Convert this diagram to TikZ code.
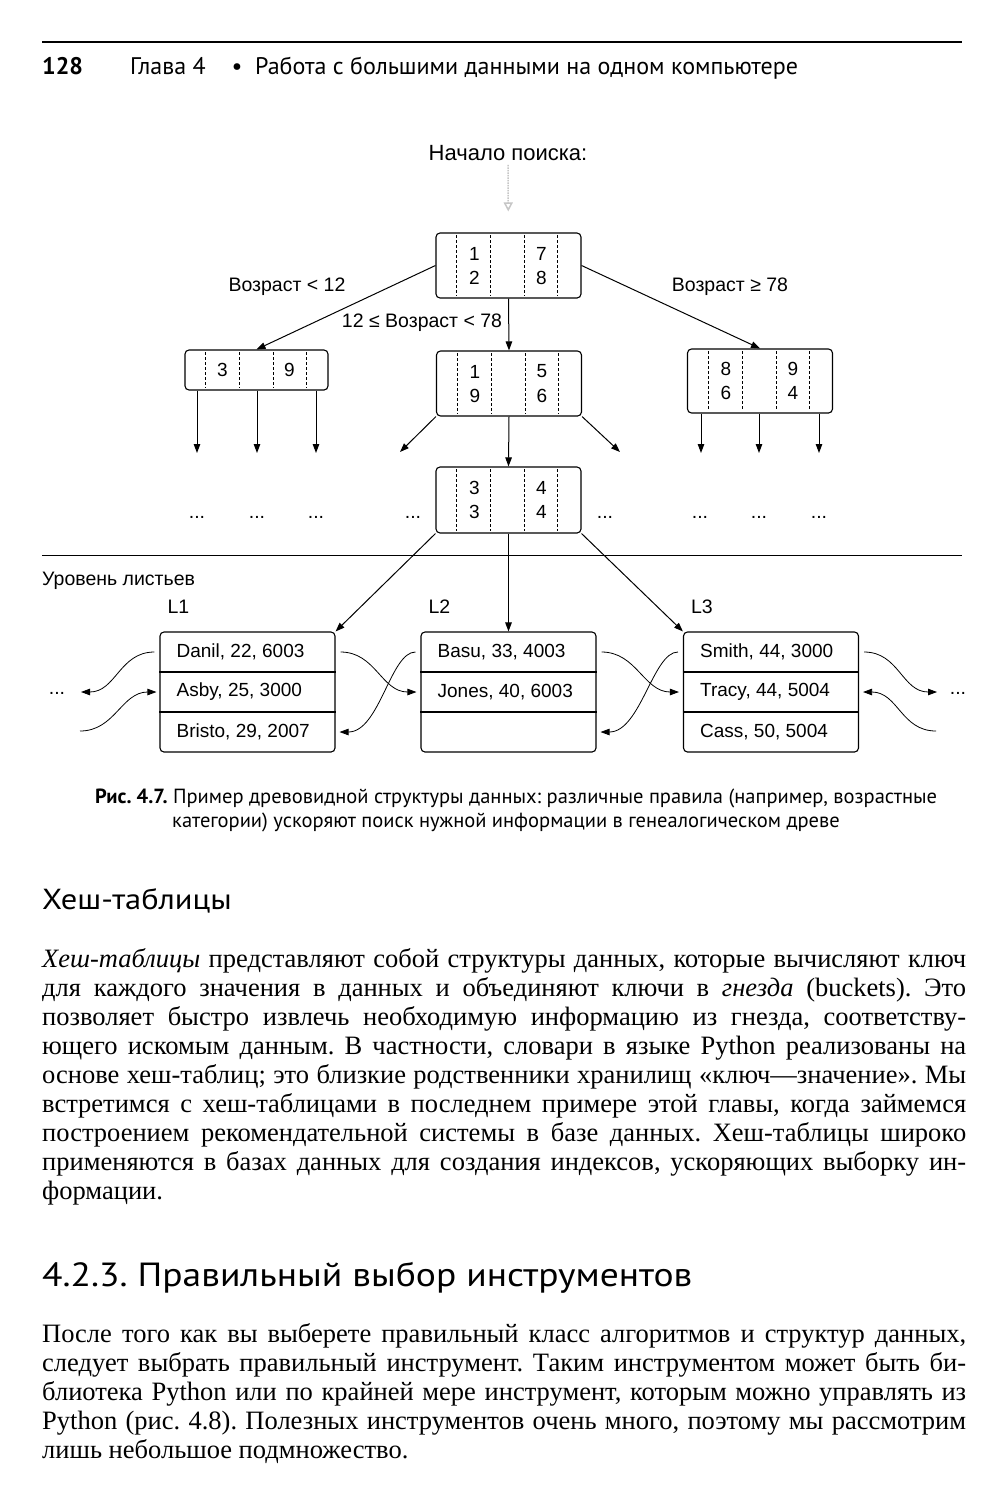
\documentclass[tikz,border=0pt]{standalone}
\usepackage{fontspec}
\setmainfont{Liberation Serif}
\newfontfamily\diagfont{Liberation Sans}
\newfontfamily\narrowfont{PT Sans}
\newfontfamily\headfont[FakeStretch=1.12]{PT Sans}
\usetikzlibrary{arrows.meta}

\tikzset{
  knot/.style={draw, line width=1.1pt, rounded corners=4pt, minimum width=145pt, minimum height=65pt, inner sep=0pt},
  leaf/.style={draw, line width=1.1pt, rounded corners=4pt, minimum width=175pt, minimum height=120pt, inner sep=0pt},
  num/.style={font=\diagfont\fontsize{19}{19}\selectfont, inner sep=0pt},
  lbl/.style={font=\diagfont\fontsize{19.5}{19.5}\selectfont, inner sep=0pt},
  arr/.style={line width=1pt, -{Triangle[length=9pt,width=6.5pt]}},
  tarr/.style={line width=0.8pt, -{Triangle[length=9pt,width=6.5pt]}},
  sep/.style={dash pattern=on 3pt off 2pt, line width=0.5pt},
  faint/.style={draw=gray!45, densely dotted, line width=1.5pt, -{Triangle[open,length=9pt,width=9pt]}},
  hdr/.style={font=\narrowfont\fontsize{24}{24}\selectfont, inner sep=0pt},
  captxt/.style={font=\narrowfont\fontsize{20.5}{20.5}\selectfont, inner sep=0pt},
  txt/.style={font=\fontsize{26.5}{29}\selectfont, inner sep=0pt, anchor=base west},
}

% пунктир внутри узла
\newcommand\celllines[1]{%
  \foreach \dx in {21,55,89,122}
    \draw[sep] ([shift={(\dx pt,-3pt)}]#1.north west) -- ([shift={(\dx pt,3pt)}]#1.south west);}
% ключи узла: левый столбец, правый столбец
\newcommand\keyset[5]{%
  \node[num] (#1-a) at ([shift={(-34pt,12pt)}]#1.center) {#2};
  \node[num] (#1-b) at ([shift={(-34pt,-12pt)}]#1.center) {#3};
  \node[num] (#1-c) at ([shift={(33pt,12pt)}]#1.center) {#4};
  \node[num] (#1-d) at ([shift={(33pt,-12pt)}]#1.center) {#5};}
% строка абзаца по ширине
\newcommand\jline[3]{\node[txt] (#1) at (42,#2) {\makebox[924pt][s]{#3}};}

\begin{document}
\frenchspacing
\begin{tikzpicture}[x=1pt,y=-1pt]
\useasboundingbox (0,0) rectangle (1008,1500);
\fill[white] (0,0) rectangle (1008,1500);

%колонтитул
\draw[line width=1.5pt] (42,42) -- (962,42);
\node[hdr, anchor=base west] (pg) at (42,74) {\bfseries 128};
\node[hdr, anchor=base west] (ch) at (130,74) {Глава 4};
\node[hdr, anchor=base] (bul) at (237,74) {•};
\node[hdr, anchor=base west] (ttl) at (255,74) {Работа с большими данными на одном компьютере};

%дерево
\node[lbl, font=\diagfont\fontsize{22}{22}\selectfont] (start) at (508,153) {Начало поиска:};
\node[knot] (root) at (508.5,265.5) {};
\node[knot, minimum width=143pt, minimum height=40pt] (lft) at (256.5,370) {};
\node[knot] (mid) at (509,383.5) {};
\node[knot, minimum height=64pt] (rgt) at (760,381) {};
\node[knot, minimum height=66pt] (low) at (508.5,500) {};
\draw[faint, shorten <=4pt, shorten >=21pt] (start) -- (root);

\celllines{root} \celllines{lft} \celllines{mid} \celllines{rgt} \celllines{low}
\keyset{root}{1}{2}{7}{8}
\keyset{mid}{1}{9}{5}{6}
\keyset{rgt}{8}{6}{9}{4}
\keyset{low}{3}{3}{4}{4}
\node[num] (lft-a) at ([xshift=-34pt]lft.center) {3};
\node[num] (lft-c) at ([xshift=33pt]lft.center) {9};

\draw[arr] (root.west) -- (lft.north);
\draw[arr] (root.east) -- (rgt.north);
\draw[arr] (root.south) -- (mid.north);
\draw[arr] (mid.south) -- (low.north);
\coordinate (mid-l) at (400,452);
\coordinate (mid-r) at (620,452);
\draw[arr] (mid.south west) -- (mid-l);
\draw[arr] (mid.south east) -- (mid-r);
\foreach \n/\x in {lft/197,lft/257,lft/316,rgt/701,rgt/759,rgt/819}{
  \coordinate (\n-\x) at (\x,453);
  \draw[arr] (\n-\x |- \n.south) -- (\n-\x);
}

\node[lbl] (age1) at (287,287) {Возраст < 12};
\node[lbl] (age2) at (422,323) {12 ≤ Возраст < 78};
\node[lbl] (age3) at (730,287) {Возраст ≥ 78};

\foreach \x [count=\i] in {197,257,316,413,605,700,759,819}
  \node[lbl] (dots\i) at (\x,517) {...};

%уровень листьев
\draw[line width=1pt] (42,555) -- (962,555);
\node[lbl, anchor=west] (lev) at (42,581) {Уровень листьев};

\node[leaf] (la) at (247.5,692) {};
\node[leaf] (lb) at (508.5,692) {};
\node[leaf] (lc) at (771,692) {};
\foreach \l/\t in {la/L1,lb/L2,lc/L3}{
  \node[lbl, anchor=west] (\l-name) at ([shift={(8pt,85pt)}]\l.west) {\t};
  \draw[line width=1.1pt] ([yshift=20pt]\l.west) -- ([yshift=20pt]\l.east);
  \draw[line width=1.1pt] ([yshift=-20pt]\l.west) -- ([yshift=-20pt]\l.east);
}
\node[num, anchor=west] (la-1) at ([shift={(17pt,40pt)}]la.west) {Danil, 22, 6003};
\node[num, anchor=west] (la-2) at ([shift={(17pt,0pt)}]la.west) {Asby, 25, 3000};
\node[num, anchor=west] (la-3) at ([shift={(17pt,-40pt)}]la.west) {Bristo, 29, 2007};
\node[num, anchor=west] (lb-1) at ([shift={(17pt,40pt)}]lb.west) {Basu, 33, 4003};
\node[num, anchor=west] (lb-2) at ([shift={(17pt,0pt)}]lb.west) {Jones, 40, 6003};
\node[num, anchor=west] (lc-1) at ([shift={(17pt,40pt)}]lc.west) {Smith, 44, 3000};
\node[num, anchor=west] (lc-2) at ([shift={(17pt,0pt)}]lc.west) {Tracy, 44, 5004};
\node[num, anchor=west] (lc-3) at ([shift={(17pt,-40pt)}]lc.west) {Cass, 50, 5004};

\draw[arr] (low.south west) -- (la.north east);
\draw[arr] (low.south) -- (lb.north);
\draw[arr] (low.south east) -- (lc.north west);

%связи между листьями
\draw[tarr] ([shift={(5pt,40pt)}]la.east) .. controls +(35pt,0pt) and +(-35pt,0pt) .. ([xshift=-4pt]lb.west);
\draw[tarr] ([shift={(-5pt,40pt)}]lb.west) .. controls +(-25pt,0pt) and +(40pt,0pt) .. ([shift={(4pt,-40pt)}]la.east);
\draw[tarr] ([shift={(5pt,40pt)}]lb.east) .. controls +(35pt,0pt) and +(-35pt,0pt) .. ([xshift=-4pt]lc.west);
\draw[tarr] ([shift={(-5pt,40pt)}]lc.west) .. controls +(-25pt,0pt) and +(40pt,0pt) .. ([shift={(4pt,-40pt)}]lb.east);
\coordinate (l-out) at (81,692);
\coordinate (l-in) at (80,731);
\coordinate (r-out) at (937,692);
\coordinate (r-in) at (936,731);
\draw[tarr] ([shift={(-5pt,40pt)}]la.west) .. controls +(-35pt,0pt) and +(35pt,0pt) .. (l-out);
\draw[tarr] (l-in) .. controls +(35pt,0pt) and +(-35pt,0pt) .. ([xshift=-3pt]la.west);
\draw[tarr] ([shift={(5pt,40pt)}]lc.east) .. controls +(35pt,0pt) and +(-35pt,0pt) .. (r-out);
\draw[tarr] (r-in) .. controls +(-35pt,0pt) and +(35pt,0pt) .. ([xshift=4pt]lc.east);
\node[lbl] (dl) at (57,693) {...};
\node[lbl] (dr) at (958,693) {...};

%подпись
\node[captxt, anchor=base west] (cap1) at (95,803) {\textbf{Рис. 4.7.} Пример древовидной структуры данных: различные правила (например, возрастные};
\node[captxt, anchor=base] (cap2) at (506,827) {категории) ускоряют поиск нужной информации в генеалогическом древе};

%текст
\node[anchor=base west, inner sep=0pt, font=\headfont\fontsize{29}{29}\selectfont] (h1) at (42,909) {Хеш-таблицы};
\jline{b1}{967}{\textit{Хеш-таблицы} представляют собой структуры данных, которые вычисляют ключ}
\jline{b2}{996}{для каждого значения в данных и объединяют ключи в \textit{гнезда} (buckets). Это}
\jline{b3}{1025}{позволяет быстро извлечь необходимую информацию из гнезда, соответству-}
\jline{b4}{1054}{ющего искомым данным. В частности, словари в языке Python реализованы на}
\jline{b5}{1083}{основе хеш-таблиц; это близкие родственники хранилищ «ключ—значение». Мы}
\jline{b6}{1112}{встретимся с хеш-таблицами в последнем примере этой главы, когда займемся}
\jline{b7}{1141}{построением рекомендательной системы в базе данных. Хеш-таблицы широко}
\jline{b8}{1170}{применяются в базах данных для создания индексов, ускоряющих выборку ин-}
\node[txt] (b9) at (42,1199) {формации.};

\node[anchor=base west, inner sep=0pt, font=\headfont\fontsize{33.5}{33.5}\selectfont] (h2) at (42,1286) {4.2.3. Правильный выбор инструментов};
\jline{p1}{1342}{После того как вы выберете правильный класс алгоритмов и структур данных,}
\jline{p2}{1371}{следует выбрать правильный инструмент. Таким инструментом может быть би-}
\jline{p3}{1400}{блиотека Python или по крайней мере инструмент, которым можно управлять из}
\jline{p4}{1429}{Python (рис. 4.8). Полезных инструментов очень много, поэтому мы рассмотрим}
\node[txt] (p5) at (42,1458) {лишь небольшое подмножество.};
\end{tikzpicture}
\end{document}
